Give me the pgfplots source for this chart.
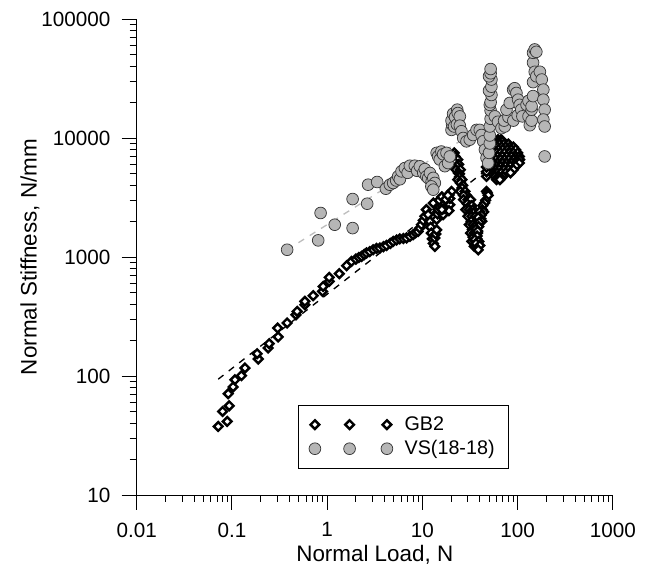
\documentclass[border=0pt]{standalone}
\usepackage{fontspec}
\setmainfont{Liberation Sans}
\usepackage{pgfplots}
\pgfplotsset{compat=1.18}

\definecolor{vsfill}{RGB}{182,182,182}
\definecolor{vsedge}{RGB}{55,55,55}
\definecolor{fitgray}{RGB}{190,190,190}

\pgfplotsset{
  tri legend/.style={
    legend image code/.code={
      \draw[##1] plot coordinates {(0pt,0pt) (26pt,0pt) (54pt,0pt)};
      \path (65pt,0pt);
    }
  }
}

\begin{document}
\begin{tikzpicture}
\useasboundingbox (-102.5pt,-55.5pt) rectangle (383.5pt,371.25pt);
\begin{axis}[
  at={(0,0)}, anchor=south west,
  scale only axis,
  width=357.2pt, height=357pt,
  xmode=log, ymode=log,
  xmin=0.01, xmax=1000, ymin=10, ymax=100000,
  axis x line*=bottom, axis y line*=left,
  axis line style={line width=0.75pt},
  tick align=outside,
  major tick length=11.25pt, minor tick length=5.25pt,
  every tick/.style={line width=0.75pt, black},
  xtick={0.01,0.1,1,10,100,1000},
  xticklabels={0.01,0.1,1,10,100,1000},
  ytick={10,100,1000,10000,100000},
  yticklabels={10,100,1000,10000,100000},
  minor xtick={0.02,0.03,0.04,0.05,0.06,0.07,0.08,0.09,
               0.2,0.3,0.4,0.5,0.6,0.7,0.8,0.9,
               2,3,4,5,6,7,8,9,20,30,40,50,60,70,80,90,
               200,300,400,500,600,700,800,900},
  minor ytick={20,30,40,50,60,70,80,90,200,300,400,500,600,700,800,900,
               2000,3000,4000,5000,6000,7000,8000,9000,
               20000,30000,40000,50000,60000,70000,80000,90000},
  font=\fontsize{15.5}{18}\selectfont,
  xticklabel style={yshift=-6pt},
  yticklabel style={xshift=-5pt},
  xlabel={Normal Load, N},
  ylabel={Normal Stiffness, N/mm},
  every axis x label/.style={at={(rel axis cs:0.5,0)}, yshift=-45pt,
    anchor=center, font=\fontsize{16.8}{19}\selectfont},
  every axis y label/.style={at={(rel axis cs:0,0.5)}, xshift=-80pt,
    rotate=90, anchor=center, font=\fontsize{16.8}{19}\selectfont},
  legend style={at={(0.3387,0.189)}, anchor=north west, draw=black,
    line width=0.6pt, font=\fontsize{14.8}{17}\selectfont, row sep=2pt,
    inner xsep=8pt, inner ysep=6.5pt},
  legend cell align=left,
  clip=false,
]
% fitted trend lines
\addplot[forget plot, black, line width=1pt, dash pattern=on 5pt off 5pt]
  coordinates {(0.0718,94) (90,8100)};
\addplot[forget plot, fitgray, line width=1pt, dash pattern=on 5pt off 5pt]
  coordinates {(0.38,1150) (200,26900)};

% GB2
\addplot[only marks, mark=square*, mark size=2.3pt,
  mark options={rotate=45, fill=white, draw=black, line width=1.8pt}, tri legend]
  table {
x y
0.0718 37.7
0.0893 41.5
0.0799 50.4
0.0937 56.2
0.0915 71
0.103 80.9
0.1075 93
0.126 100.7
0.137 116.7
0.189 139
0.184 154
0.240 172
0.246 187
0.306 213
0.302 253
0.380 279
0.470 327
0.484 349
0.583 397
0.583 424
0.713 473
0.895 514
0.908 566
1.05 624
1.05 674
1.34 724
1.60 845
1.80 918
2.0 960
2.15 990
2.30 1012
2.45 1050
2.59 1081
2.8 1110
3.04 1151
3.3 1180
3.57 1190
3.9 1220
4.20 1250
4.6 1300
4.93 1353
5.35 1390
5.79 1420
6.3 1430
6.81 1445
7.4 1490
8.0 1540
8.5 1600
9.0 1640
9.4 1750
9.77 1870
10.2 2030
10.6 2200
11.0 2500
11.5 2270
12.0 1990
12.2 1780
12.4 1590
12.7 1420
13.0 1300
13.5 1227
13.5 1445
13.8 1560
14.1 1690
14.1 2070
14.4 2300
14.6 2500
15.2 2650
15.8 2750
16.5 2270
16.8 2550
17.2 2840
17.9 2580
18.5 2750
19.4 2750
19.4 3100
20.2 3560
13.0 2840
15 3000
16 3200
17.5 3050
18.5 3300
19 2450
16 2500
21.6 7500
22 7000
21.5 6580
23.5 6580
22 6200
24 6000
23 5800
22.5 5420
25 5420
23.8 5100
24.5 5000
24.5 4700
23.5 4470
26 4470
25 4200
26.5 4000
26 3800
25 3560
28 3560
29 3300
27 3300
27 3030
30 3030
32 3030
29.5 2800
31.5 2700
33 2700
28.5 2500
31 2500
34 2500
32 2350
34.5 2350
30 2200
33 2200
36 2200
35 2000
32.5 2000
31 1870
34 1870
37 1870
35.5 1800
33.5 1700
32 1590
35 1590
38 1590
36.5 1500
33 1353
34 1470
37.5 1420
36 1353
38 1353
35 1227
36 1250
37 1227
47 3560
48 3450
49 3300
46 3000
45 2850
43 2700
42.5 2500
44 2400
40 2400
41.5 2250
41 2100
38.5 2150
42 2000
39.5 1950
39 1800
36.5 1720
38 1650
37.5 1500
35.5 1400
39 1350
36.5 1300
40 1250
38.5 1150
47 4760
47 5200
47 5700
66.5 9200
62 9690
67 9690
60 9300
64.5 9300
69 9300
58 8900
65 8900
72 8900
80 8900
57 8400
61 8400
68 8400
75 8400
83 8400
90 8400
57 7980
63 7980
70 7980
78 7980
86 7980
95 7980
56 7500
60 7500
66 7500
73 7500
82 7500
90 7500
100 7500
56 7000
62 7000
69 7000
77 7000
86 7000
96 7000
104 7000
59 6580
66 6580
73 6580
81 6580
91 6580
100 6580
105 6580
56 6160
62 6160
69 6160
77 6160
86 6160
96 6160
104 6160
57 5800
60 5800
66 5800
74 5800
84 5800
95 5800
58 5420
64 5420
72 5420
80 5420
90 5420
57 5100
61 5100
67 5100
75 5100
84 5100
58 4760
63 4760
70 4760
62 4600
67 4600
60 4470
65 4470
};
\addlegendentry{GB2}

% VS(18-18)
\addplot[only marks, mark=*, mark size=4.4pt,
  mark options={fill=vsfill, draw=vsedge, line width=0.55pt}, tri legend]
  table {
x y
0.380 1151
0.805 1380
0.853 2344
1.20 1868
1.85 1750
1.85 3070
2.63 2805
2.69 4053
3.35 4270
4.13 3750
4.55 4050
4.93 4190
5.3 4400
5.56 4760
5.8 4500
6.03 5250
6.54 5590
7.0 5100
7.38 5850
8.32 5850
8.8 5300
9.40 5780
10.2 5100
10.6 5480
11.0 4760
11.5 4600
12.0 5080
12.5 4300
13.0 4620
13.5 4190
12.4 3920
13.0 3680
14.1 7500
14.6 7000
15.2 6600
15.8 7700
16.5 7300
17.2 5800
17.9 7500
18.6 6160
19.4 7000
20.2 11700
20.5 13000
20.2 14000
21 16000
21.5 12500
22 15000
23 13000
23.2 17300
23.5 16200
24.7 15200
24.7 12700
25.7 11400
26.8 10000
29 9380
31.4 9690
34.1 10600
37 11700
40 11700
41.7 10600
43.5 9380
45.3 7980
47.1 6800
49 6160
50 7500
51 9000
51 10500
51 12500
52 14500
52 17000
51 19000
52 20000
53 23000
50 25000
53 27000
53 31000
50 33000
52 35000
52 38000
57.6 15200
62.2 13700
67.5 12100
73.2 12500
72 14000
80 15000
76.3 17300
82.6 19700
90 14000
89.6 25500
93 26200
97 23900
100 15500
101 21000
105 19000
109 17300
112 15200
124 19000
130 20500
130 15200
134 12800
140 14000
140 17300
140 18500
145 22500
145 29500
145 43000
145 52000
151 55500
157 53000
151 36000
157 33000
171 36000
179 31000
186 25500
186 21000
192 17300
186 14300
192 12500
192 7000
};
\addlegendentry{VS(18-18)}
\end{axis}
\end{tikzpicture}
\end{document}
